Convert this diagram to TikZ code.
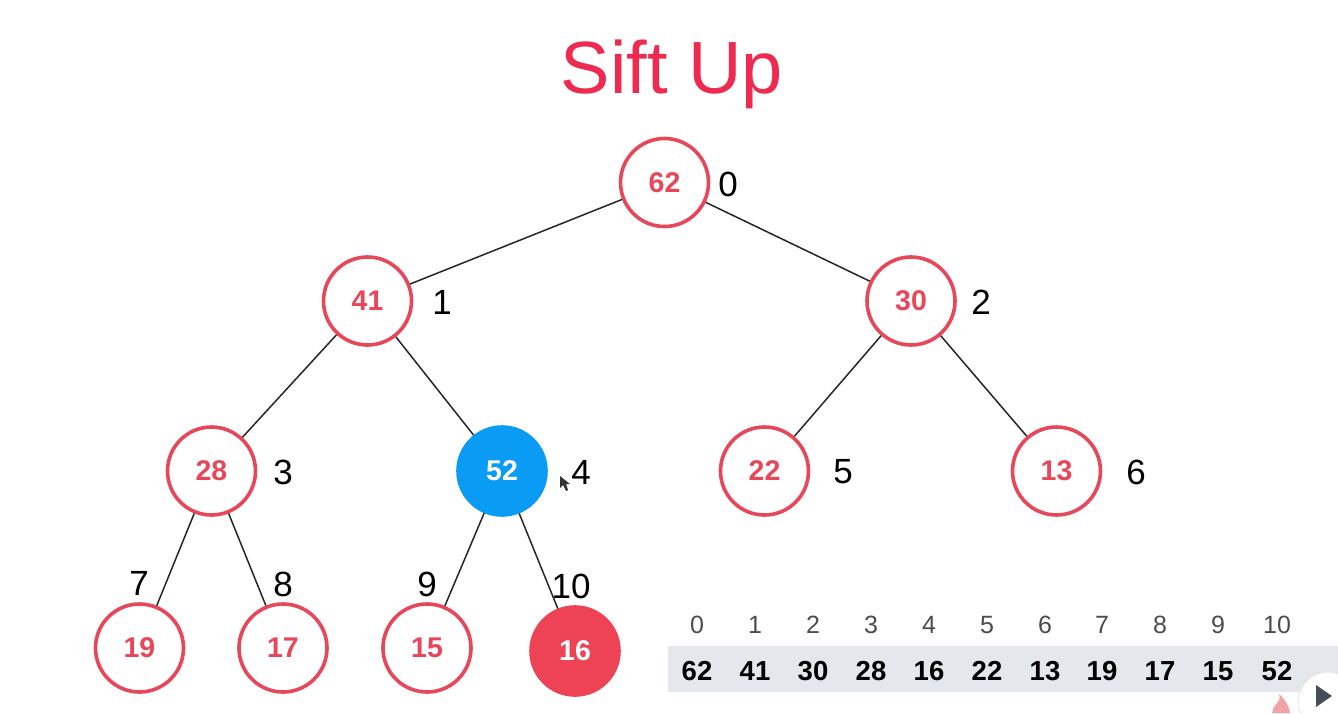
\documentclass[tikz,border=0pt]{standalone}
\usepackage{fontspec}
\setmainfont{Liberation Sans}
\definecolor{hred}{HTML}{E8475A}
\definecolor{ttl}{HTML}{EE2A50}
\definecolor{hblue}{HTML}{0A9BF5}
\definecolor{hfill}{HTML}{EE4255}
\definecolor{band}{HTML}{E4E7EC}
\definecolor{flame}{HTML}{F2A3A8}
\definecolor{playtri}{HTML}{454E57}
\tikzset{
 x=1pt,y=-1pt,
 heap/.style={circle,draw=hred,line width=3.6pt,fill=white,minimum size=88pt,inner sep=0pt,text=hred,font=\fontsize{28.5}{28.5}\selectfont\bfseries},
 bluen/.style={heap,draw=hblue,fill=hblue,text=white},
 redn/.style={heap,draw=hfill,fill=hfill,text=white},
 edge/.style={draw=black!85,line width=1.5pt},
 idx/.style={font=\fontsize{35}{35}\selectfont,text=black,inner sep=0pt},
 ahead/.style={font=\fontsize{25}{25}\selectfont,text=black!70,inner sep=0pt,text height=18pt,text depth=0pt},
 aval/.style={font=\fontsize{27.5}{27.5}\selectfont\bfseries,text=black,inner sep=0pt,text height=20pt,text depth=0pt},
 playdisc/.style={circle,fill=white,draw=black!12,line width=0.6pt,minimum size=60pt,inner sep=0pt},
}
\begin{document}
\begin{tikzpicture}
\useasboundingbox (0,0) rectangle (1338,713);
\fill[white] (0,0) rectangle (1338,713);
\node[font=\fontsize{74}{74}\selectfont,text=ttl,inner sep=0pt] (title) at (672,74) {Sift Up};
\node[heap] (n0) at (664.5,182.5) {62};
\node[heap] (n1) at (367.5,301) {41};
\node[heap] (n2) at (911,301) {30};
\node[heap] (n3) at (211.5,471) {28};
\node[bluen] (n4) at (502,471) {52};
\node[heap] (n5) at (764.5,471) {22};
\node[heap] (n6) at (1056.5,471) {13};
\node[heap] (n7) at (139.5,648) {19};
\node[heap] (n8) at (283,648) {17};
\node[heap] (n9) at (427,648) {15};
\node[redn] (n10) at (575,651) {16};
\foreach \a/\b in {n0/n1,n0/n2,n1/n3,n1/n4,n2/n5,n2/n6,n3/n7,n3/n8,n4/n9,n4/n10}
 \draw[edge] (\a) -- (\b);
\node[idx] (i0) at (728,184) {0};
\node[idx] (i1) at (442,302) {1};
\node[idx] (i2) at (981,302) {2};
\node[idx] (i3) at (283,472) {3};
\node[idx] (i4) at (581,472) {4};
\node[idx] (i5) at (843,472) {5};
\node[idx] (i6) at (1136,472) {6};
\node[idx] (i7) at (139,583) {7};
\node[idx] (i8) at (283,584) {8};
\node[idx] (i9) at (427,584) {9};
\node[idx] (i10) at (571,586) {10};
\fill[band] (668,646) rectangle (1338,692);
\foreach \i/\x/\h/\v in {0/697/0/62,1/755/1/41,2/813/2/30,3/871/3/28,4/929/4/16,5/987/5/22,6/1045/6/13,7/1102/7/19,8/1160/8/17,9/1218/9/15,10/1277/10/52}{
 \node[ahead] (h\i) at (\x,624) {\h};
 \node[aval] (v\i) at (\x,670) {\v};
}
\fill[black!80] (560,476) -- (560,488) -- (563,485) -- (566,491) -- (568,490) -- (566,484) -- (570,484) -- cycle;
\fill[flame] (1272,713) .. controls (1273,706) and (1277,704) .. (1279,700) .. controls (1280,698) and (1280,696) .. (1279,694) .. controls (1284,698) and (1289,706) .. (1290,713) -- cycle;
\node[playdisc] (play) at (1328,702) {};
\fill[playtri] (1316,685) -- (1332,696) -- (1316,707) -- cycle;
\end{tikzpicture}
\end{document}
